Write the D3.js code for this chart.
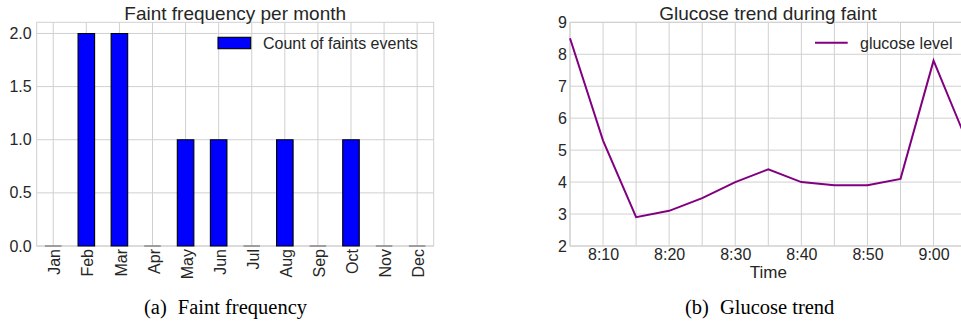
<!DOCTYPE html>
<html>
<head>
<meta charset="utf-8">
<script src="https://cdn.jsdelivr.net/npm/d3@7"></script>
<style>
  html, body { margin: 0; padding: 0; background: #fff; }
  svg { display: block; }
  text { font-family: "Liberation Sans", Arial, sans-serif; fill: #262626; }
  .caption { font-family: "Liberation Serif", "Times New Roman", serif; fill: #000; }
</style>
</head>
<body>
<svg id="chart" width="961" height="322"></svg>
<script>
// Faint counts by month
const months = ["Jan", "Feb", "Mar", "Apr", "May", "Jun", "Jul", "Aug", "Sep", "Oct", "Nov", "Dec"];
const faintCounts = [0, 2, 2, 0, 1, 1, 0, 1, 0, 1, 0, 0];
const countTicks = [0, 0.5, 1.0, 1.5, 2.0];

// Glucose readings around the faint
const readingTimes = ["8:05", "8:10", "8:15", "8:20", "8:25", "8:30", "8:35", "8:40", "8:45", "8:50", "8:55", "9:00", "9:05"];
const glucoseLevels = [8.5, 5.3, 2.9, 3.1, 3.5, 4.0, 4.4, 4.0, 3.9, 3.9, 4.1, 7.8, 5.3];
const glucoseTicks = [2, 3, 4, 5, 6, 7, 8, 9];

const svg = d3.select("#chart");
const gridColor = "#d0d0d0";
const parseTime = d3.timeParse("%H:%M");

// ---------- (a) bar chart ----------
const A = { left: 36.7, right: 433.7, top: 22.3, bottom: 246 };
const gA = svg.append("g");

const xA = d3.scaleBand().domain(months).range([A.left, A.right]).paddingInner(0.5).paddingOuter(0.25);
const yA = d3.scaleLinear().domain([0, 2.105]).range([A.bottom, A.top]);

// grid
gA.append("g").selectAll("line").data(countTicks).join("line")
  .attr("x1", A.left).attr("x2", A.right)
  .attr("y1", d => yA(d)).attr("y2", d => yA(d))
  .attr("stroke", gridColor).attr("stroke-width", 1);
gA.append("g").selectAll("line").data(months).join("line")
  .attr("x1", d => xA(d) + xA.bandwidth() / 2).attr("x2", d => xA(d) + xA.bandwidth() / 2)
  .attr("y1", A.top).attr("y2", A.bottom)
  .attr("stroke", gridColor).attr("stroke-width", 1);

// frame
gA.append("rect")
  .attr("x", A.left).attr("y", A.top)
  .attr("width", A.right - A.left).attr("height", A.bottom - A.top)
  .attr("fill", "none").attr("stroke", gridColor).attr("stroke-width", 1);

// bars (drawn as paths so empty months still show their edge)
gA.append("g").selectAll("path").data(months.map((m, i) => ({ m, v: faintCounts[i] }))).join("path")
  .attr("d", d => {
    const x0 = xA(d.m), x1 = x0 + xA.bandwidth();
    const y0 = yA(0), y1 = yA(d.v);
    return `M${x0},${y0}V${y1}H${x1}V${y0}Z`;
  })
  .attr("fill", "#0000ff")
  .attr("stroke", d => d.v === 0 ? "#8a8a8a" : "#000")
  .attr("stroke-width", d => d.v === 0 ? 1.6 : 1.1);

// y axis labels
const yAxisA = d3.axisLeft(yA).tickValues(countTicks).tickFormat(d3.format(".1f")).tickSize(0).tickPadding(5);
gA.append("g").attr("transform", `translate(${A.left},0)`).call(yAxisA)
  .call(g => g.select(".domain").remove())
  .selectAll("text").style("font-size", "16px").attr("fill", "#262626")
  .style("font-family", "Liberation Sans, Arial, sans-serif");

// x axis labels (rotated)
const xAxisA = d3.axisBottom(xA).tickSize(0).tickPadding(0);
gA.append("g").attr("transform", `translate(0,${A.bottom})`).call(xAxisA)
  .call(g => g.select(".domain").remove())
  .selectAll("text")
  .style("font-size", "16px").attr("fill", "#262626")
  .style("font-family", "Liberation Sans, Arial, sans-serif")
  .attr("text-anchor", "end")
  .attr("transform", "rotate(-90)")
  .attr("x", -3).attr("y", 1).attr("dy", "0.38em");

// title
gA.append("text").attr("x", (A.left + A.right) / 2).attr("y", 19.5)
  .attr("text-anchor", "middle").style("font-size", "19px")
  .text("Faint frequency per month");

// legend
gA.append("rect").attr("x", 218).attr("y", 37.3).attr("width", 32.7).attr("height", 11.4)
  .attr("fill", "#0000ff").attr("stroke", "#000").attr("stroke-width", 1.1);
gA.append("text").attr("x", 263).attr("y", 48.6).style("font-size", "16px")
  .text("Count of faints events");

// caption
const capA = gA.append("text").attr("class", "caption").attr("x", 144).attr("y", 314).style("font-size", "20.5px");
capA.append("tspan").text("(a)");
capA.append("tspan").attr("dx", 11).text("Faint frequency");

// ---------- (b) line chart ----------
const B = { left: 570, right: 966.6, top: 22.3, bottom: 246 };
const gB = svg.append("g");
const glucoseData = readingTimes.map((t, i) => ({ t: parseTime(t), v: glucoseLevels[i] }));

const xB = d3.scaleTime().domain(d3.extent(glucoseData, d => d.t)).range([B.left, B.right]);
const yB = d3.scaleLinear().domain([2, 9]).range([B.bottom, B.top]);

const fiveMin = d3.timeMinute.every(5).range(parseTime("8:05"), d3.timeMinute.offset(parseTime("9:05"), 1));
const tenMin = fiveMin.filter(d => d.getMinutes() % 10 === 0);

// grid
gB.append("g").selectAll("line").data(glucoseTicks).join("line")
  .attr("x1", B.left).attr("x2", B.right)
  .attr("y1", d => yB(d)).attr("y2", d => yB(d))
  .attr("stroke", gridColor).attr("stroke-width", 1);
gB.append("g").selectAll("line").data(fiveMin).join("line")
  .attr("x1", d => xB(d)).attr("x2", d => xB(d))
  .attr("y1", B.top).attr("y2", B.bottom)
  .attr("stroke", gridColor).attr("stroke-width", 1);

gB.append("rect")
  .attr("x", B.left).attr("y", B.top)
  .attr("width", B.right - B.left).attr("height", B.bottom - B.top)
  .attr("fill", "none").attr("stroke", gridColor).attr("stroke-width", 1);

// line
gB.append("path").datum(glucoseData)
  .attr("d", d3.line().x(d => xB(d.t)).y(d => yB(d.v)))
  .attr("fill", "none").attr("stroke", "#800080").attr("stroke-width", 2)
  .attr("stroke-linejoin", "miter");

// axes labels
const yAxisB = d3.axisLeft(yB).tickValues(glucoseTicks).tickFormat(d3.format("d")).tickSize(0).tickPadding(3);
gB.append("g").attr("transform", `translate(${B.left},0)`).call(yAxisB)
  .call(g => g.select(".domain").remove())
  .selectAll("text").style("font-size", "16px").attr("fill", "#262626")
  .style("font-family", "Liberation Sans, Arial, sans-serif");

const xAxisB = d3.axisBottom(xB).tickValues(tenMin).tickFormat(d3.timeFormat("%-H:%M")).tickSize(0).tickPadding(3);
gB.append("g").attr("transform", `translate(0,${B.bottom})`).call(xAxisB)
  .call(g => g.select(".domain").remove())
  .selectAll("text").style("font-size", "16px").attr("fill", "#262626")
  .style("font-family", "Liberation Sans, Arial, sans-serif");

gB.append("text").attr("x", 768.3).attr("y", 278).attr("text-anchor", "middle")
  .style("font-size", "17px").text("Time");

gB.append("text").attr("x", 768).attr("y", 19.5).attr("text-anchor", "middle")
  .style("font-size", "19px").text("Glucose trend during faint");

// legend
gB.append("line").attr("x1", 815).attr("x2", 847.7).attr("y1", 42.7).attr("y2", 42.7)
  .attr("stroke", "#800080").attr("stroke-width", 2);
gB.append("text").attr("x", 860).attr("y", 48.6).style("font-size", "16px").text("glucose level");

// caption
const capB = gB.append("text").attr("class", "caption").attr("x", 685).attr("y", 314).style("font-size", "20.5px");
capB.append("tspan").text("(b)");
capB.append("tspan").attr("dx", 11).text("Glucose trend");
</script>
</body>
</html>
